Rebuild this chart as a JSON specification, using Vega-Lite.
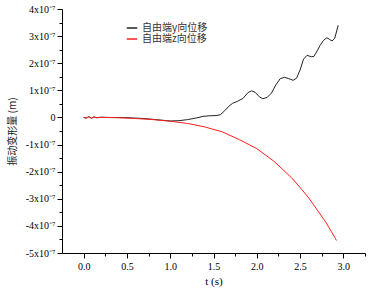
{
  "$schema": "https://vega.github.io/schema/vega-lite/v6.json",
  "width": 303,
  "height": 244,
  "autosize": {"type": "none"},
  "padding": {"left": 62, "top": 9, "right": 3, "bottom": 39},
  "background": "white",
  "config": {"view": {"stroke": null}},
  "data": {"values": [
    {"s": "自由端y向位移", "t": 0, "v": 0},
    {"s": "自由端y向位移", "t": 0.03, "v": -0.02e-7},
    {"s": "自由端y向位移", "t": 0.06, "v": 0.03e-7},
    {"s": "自由端y向位移", "t": 0.09, "v": -0.03e-7},
    {"s": "自由端y向位移", "t": 0.12, "v": 0.02e-7},
    {"s": "自由端y向位移", "t": 0.15, "v": -0.01e-7},
    {"s": "自由端y向位移", "t": 0.2, "v": 0.01e-7},
    {"s": "自由端y向位移", "t": 0.3, "v": 0},
    {"s": "自由端y向位移", "t": 0.5, "v": -0.01e-7},
    {"s": "自由端y向位移", "t": 0.7, "v": -0.04e-7},
    {"s": "自由端y向位移", "t": 0.9, "v": -0.1e-7},
    {"s": "自由端y向位移", "t": 1.0, "v": -0.13e-7},
    {"s": "自由端y向位移", "t": 1.1, "v": -0.12e-7},
    {"s": "自由端y向位移", "t": 1.2, "v": -0.08e-7},
    {"s": "自由端y向位移", "t": 1.3, "v": -0.02e-7},
    {"s": "自由端y向位移", "t": 1.38, "v": 0.04e-7},
    {"s": "自由端y向位移", "t": 1.45, "v": 0.06e-7},
    {"s": "自由端y向位移", "t": 1.53, "v": 0.07e-7},
    {"s": "自由端y向位移", "t": 1.58, "v": 0.1e-7},
    {"s": "自由端y向位移", "t": 1.63, "v": 0.25e-7},
    {"s": "自由端y向位移", "t": 1.68, "v": 0.42e-7},
    {"s": "自由端y向位移", "t": 1.72, "v": 0.52e-7},
    {"s": "自由端y向位移", "t": 1.78, "v": 0.6e-7},
    {"s": "自由端y向位移", "t": 1.84, "v": 0.7e-7},
    {"s": "自由端y向位移", "t": 1.9, "v": 0.92e-7},
    {"s": "自由端y向位移", "t": 1.94, "v": 0.98e-7},
    {"s": "自由端y向位移", "t": 1.98, "v": 0.93e-7},
    {"s": "自由端y向位移", "t": 2.03, "v": 0.76e-7},
    {"s": "自由端y向位移", "t": 2.07, "v": 0.69e-7},
    {"s": "自由端y向位移", "t": 2.12, "v": 0.74e-7},
    {"s": "自由端y向位移", "t": 2.17, "v": 0.9e-7},
    {"s": "自由端y向位移", "t": 2.22, "v": 1.2e-7},
    {"s": "自由端y向位移", "t": 2.27, "v": 1.43e-7},
    {"s": "自由端y向位移", "t": 2.32, "v": 1.48e-7},
    {"s": "自由端y向位移", "t": 2.37, "v": 1.43e-7},
    {"s": "自由端y向位移", "t": 2.42, "v": 1.37e-7},
    {"s": "自由端y向位移", "t": 2.46, "v": 1.45e-7},
    {"s": "自由端y向位移", "t": 2.5, "v": 1.75e-7},
    {"s": "自由端y向位移", "t": 2.54, "v": 2.15e-7},
    {"s": "自由端y向位移", "t": 2.58, "v": 2.29e-7},
    {"s": "自由端y向位移", "t": 2.63, "v": 2.24e-7},
    {"s": "自由端y向位移", "t": 2.66, "v": 2.25e-7},
    {"s": "自由端y向位移", "t": 2.69, "v": 2.41e-7},
    {"s": "自由端y向位移", "t": 2.73, "v": 2.65e-7},
    {"s": "自由端y向位移", "t": 2.77, "v": 2.84e-7},
    {"s": "自由端y向位移", "t": 2.81, "v": 2.94e-7},
    {"s": "自由端y向位移", "t": 2.84, "v": 2.88e-7},
    {"s": "自由端y向位移", "t": 2.87, "v": 2.82e-7},
    {"s": "自由端y向位移", "t": 2.9, "v": 2.92e-7},
    {"s": "自由端y向位移", "t": 2.92, "v": 3.15e-7},
    {"s": "自由端y向位移", "t": 2.94, "v": 3.4e-7},
    {"s": "自由端z向位移", "t": 0, "v": 0},
    {"s": "自由端z向位移", "t": 0.03, "v": -0.03e-7},
    {"s": "自由端z向位移", "t": 0.06, "v": 0.02e-7},
    {"s": "自由端z向位移", "t": 0.09, "v": -0.03e-7},
    {"s": "自由端z向位移", "t": 0.12, "v": 0.01e-7},
    {"s": "自由端z向位移", "t": 0.16, "v": -0.01e-7},
    {"s": "自由端z向位移", "t": 0.2, "v": 0},
    {"s": "自由端z向位移", "t": 0.4, "v": -0.01e-7},
    {"s": "自由端z向位移", "t": 0.6, "v": -0.04e-7},
    {"s": "自由端z向位移", "t": 0.8, "v": -0.08e-7},
    {"s": "自由端z向位移", "t": 1.0, "v": -0.14e-7},
    {"s": "自由端z向位移", "t": 1.2, "v": -0.22e-7},
    {"s": "自由端z向位移", "t": 1.4, "v": -0.35e-7},
    {"s": "自由端z向位移", "t": 1.6, "v": -0.53e-7},
    {"s": "自由端z向位移", "t": 1.8, "v": -0.82e-7},
    {"s": "自由端z向位移", "t": 2.0, "v": -1.15e-7},
    {"s": "自由端z向位移", "t": 2.2, "v": -1.62e-7},
    {"s": "自由端z向位移", "t": 2.4, "v": -2.22e-7},
    {"s": "自由端z向位移", "t": 2.5, "v": -2.58e-7},
    {"s": "自由端z向位移", "t": 2.6, "v": -2.97e-7},
    {"s": "自由端z向位移", "t": 2.7, "v": -3.42e-7},
    {"s": "自由端z向位移", "t": 2.8, "v": -3.88e-7},
    {"s": "自由端z向位移", "t": 2.9, "v": -4.42e-7},
    {"s": "自由端z向位移", "t": 2.92, "v": -4.54e-7}
  ]},
  "mark": {"type": "line", "strokeWidth": 1, "clip": true},
  "encoding": {
    "x": {
      "field": "t", "type": "quantitative",
      "scale": {"domain": [-0.25, 3.25], "nice": false, "zero": false},
      "axis": {
        "title": "t (s)",
        "titleFont": "Liberation Serif", "titleFontSize": 11, "titleFontWeight": "normal", "titleColor": "black", "titlePadding": 4,
        "labelFont": "Liberation Serif", "labelFontSize": 10, "labelColor": "black", "labelPadding": 3,
        "values": [0, 0.25, 0.5, 0.75, 1, 1.25, 1.5, 1.75, 2, 2.25, 2.5, 2.75, 3, 3.25],
        "labelExpr": "round(datum.value*4) % 2 != 0 ? '' : format(datum.value, '.1f')",
        "tickSize": {"condition": {"test": "round(datum.value*4) % 2 != 0", "value": 3}, "value": 5},
        "domainColor": "black", "tickColor": "black", "grid": false, "labelFlush": false
      }
    },
    "y": {
      "field": "v", "type": "quantitative",
      "scale": {"domain": [-5e-7, 4e-7], "nice": false, "zero": false},
      "axis": {
        "title": "振动变形量 (m)",
        "titleFont": "Noto Sans CJK SC", "titleFontSize": 10, "titleFontWeight": "normal", "titleColor": "#222222", "titlePadding": 8,
        "labelFont": "Liberation Serif", "labelFontSize": 10, "labelColor": "black", "labelPadding": 2,
        "values": [-5e-7, -4.5e-7, -4e-7, -3.5e-7, -3e-7, -2.5e-7, -2e-7, -1.5e-7, -1e-7, -0.5e-7, 0, 0.5e-7, 1e-7, 1.5e-7, 2e-7, 2.5e-7, 3e-7, 3.5e-7, 4e-7],
        "labelExpr": "round(datum.value*2e7) % 2 != 0 ? '' : (round(datum.value*1e7) == 0 ? '0' : round(datum.value*1e7) + 'x10⁻⁷')",
        "tickSize": {"condition": {"test": "round(datum.value*2e7) % 2 != 0", "value": 3}, "value": 5},
        "domainColor": "black", "tickColor": "black", "grid": false, "labelFlush": false
      }
    },
    "color": {
      "field": "s", "type": "nominal",
      "scale": {"domain": ["自由端y向位移", "自由端z向位移"], "range": ["#222222", "#ff2020"]},
      "legend": {
        "title": null, "orient": "none", "legendX": 64, "legendY": 13,
        "symbolType": "stroke", "symbolSize": 110, "symbolStrokeWidth": 1.5,
        "labelFont": "Noto Sans CJK SC", "labelFontSize": 10, "labelColor": "#333333",
        "rowPadding": 0, "labelOffset": 4, "padding": 0
      }
    }
  }
}
